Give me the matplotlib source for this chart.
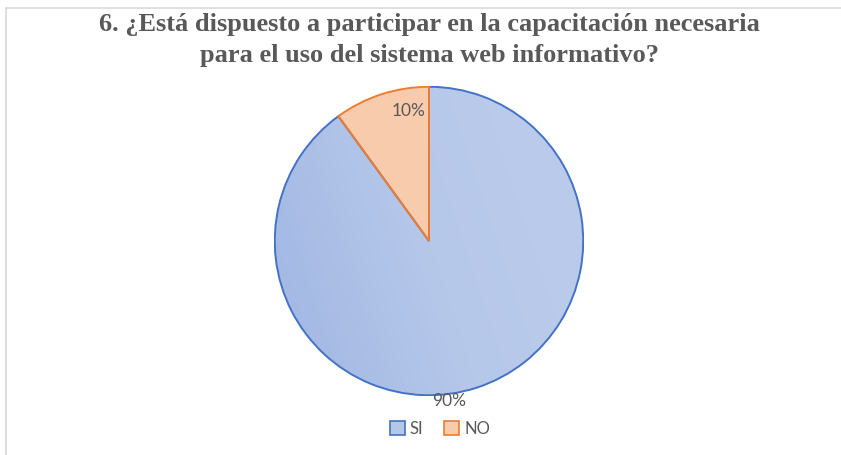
import matplotlib
matplotlib.use("Agg")
import matplotlib.pyplot as plt
import numpy as np
from matplotlib.colors import LinearSegmentedColormap
from matplotlib.lines import Line2D
from matplotlib.patches import Patch, Wedge

categories = ["SI", "NO"]
values = [90, 10]
labels_pct = ["90%", "10%"]
title = "6. ¿Está dispuesto a participar en la capacitación necesaria\npara el uso del sistema web informativo?"

W, H = 841, 455
fig = plt.figure(figsize=(W / 100, H / 100), dpi=100)
fig.patch.set_facecolor("white")

# light frame (top and left)
fig.add_artist(Line2D([6 / W, 6 / W], [0, 1 - 8 / H], color="#D9D9D9", lw=1.2))
fig.add_artist(Line2D([6 / W, 1], [1 - 8 / H, 1 - 8 / H], color="#D9D9D9", lw=1.2))

cx, cy, r = 429, 241, 155
ax = fig.add_axes([(cx - r) / W, (H - cy - r) / H, 2 * r / W, 2 * r / H])

fills = ["#B4C7E7", "#F8CBAD"]
edges = ["#4472C4", "#ED7D31"]
wedges, texts = ax.pie(values, startangle=90, counterclock=False, radius=0.995,
                       colors=fills, wedgeprops=dict(edgecolor="none", linewidth=0),
                       center=(0, 0), frame=True)
ax.set_xlim(-1, 1)
ax.set_ylim(-1, 1)
ax.set_aspect("equal")
ax.axis("off")

# diagonal gradient on SI wedge
cmap = LinearSegmentedColormap.from_list("g", ["#9FB5E2", "#B6C8EA", "#BCCCEB"])
xx, yy = np.meshgrid(np.linspace(0, 1, 256), np.linspace(0, 1, 256))
grad = np.clip(0.75 * xx + 0.25 * yy, 0, 1)
im = ax.imshow(grad, extent=[-1, 1, -1, 1], origin="lower", cmap=cmap, aspect="auto", zorder=1)
im.set_clip_path(wedges[0])
wedges[0].set_zorder(0)
wedges[1].set_zorder(2)

total = sum(values)
no_span = 360 * values[1] / total
ax.add_patch(Wedge((0, 0), 0.995, 90 + no_span, 90, fill=False,
                   edgecolor=edges[0], linewidth=1.4, zorder=3))
ax.add_patch(Wedge((0, 0), 0.995, 90, 90 + no_span, fill=False,
                   edgecolor=edges[1], linewidth=1.4, zorder=4))

lab_font = dict(family=["Lato", "DejaVu Sans"], fontsize=12.5, color="#595959")
ax.text(-0.13, 0.84, labels_pct[1], ha="center", va="center", **lab_font, zorder=5)
ax.text(0.13, -1.035, labels_pct[0], ha="center", va="center", **lab_font, zorder=5)

fig.text(cx / W, 1 - 40 / H, title, ha="center", va="center",
         family=["Liberation Serif"], fontweight="bold", fontsize=19,
         color="#595959", linespacing=1.42)

handles = [Patch(facecolor=f, edgecolor=e, linewidth=1.2) for f, e in zip(fills, edges)]
fig.legend(handles, categories, loc="center", bbox_to_anchor=(440 / W, 1 - 429 / H),
           ncol=2, frameon=False, prop=dict(family=["Lato", "DejaVu Sans"], size=12),
           labelcolor="#595959", handlelength=0.9, handleheight=0.9, handletextpad=0.3,
           columnspacing=1.25)

fig.savefig("out.png", dpi=100, facecolor="white")
